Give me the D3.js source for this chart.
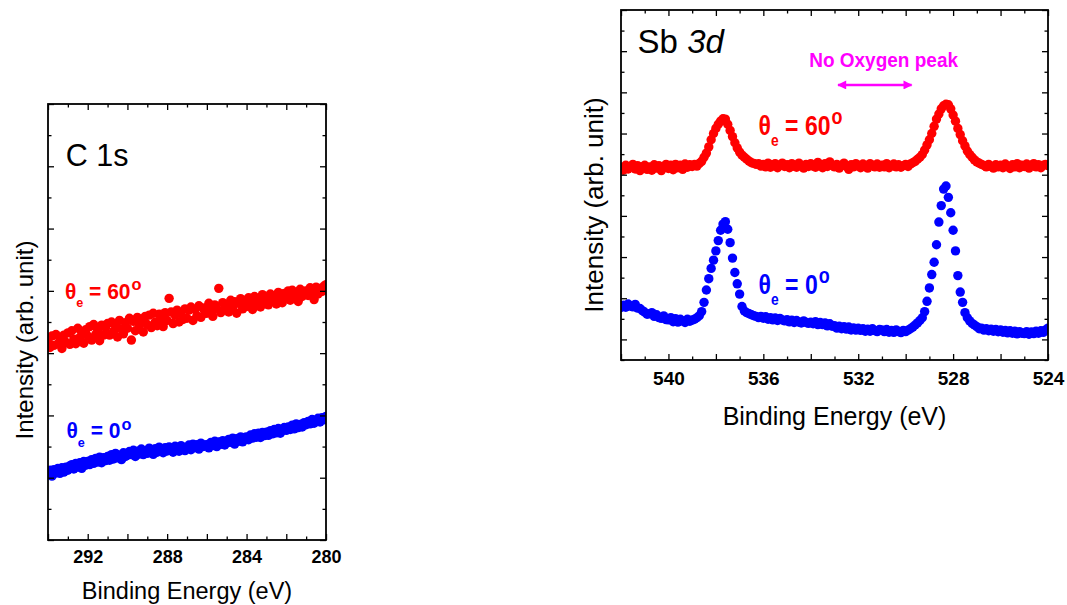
<!DOCTYPE html>
<html><head><meta charset="utf-8">
<script src="https://cdn.jsdelivr.net/npm/d3@7/dist/d3.min.js"></script>
<style>
body{margin:0;background:#fff;}
svg{display:block;font-family:"Liberation Sans",Arial,Helvetica,sans-serif;}
</style>
</head><body>
<svg id="chart" width="1067" height="605"></svg>
<script>
// ---------- DATA ----------
// C 1s: binding energy sampled every 0.1 eV from 294.0 down to 280.0
const c1sStart = 294.0, c1sStep = 0.1;
const c1s60 = [
6.42,6.18,6.55,6.25,6.60,6.30,6.48,6.15,6.58,6.35,
6.65,6.28,6.72,6.45,6.30,6.80,6.50,6.68,6.32,6.75,
6.55,6.85,6.42,6.92,6.60,6.75,6.40,6.90,6.58,6.82,
6.95,6.58,7.00,6.70,6.88,6.52,7.05,6.78,6.62,6.98,
6.80,7.12,6.42,7.02,6.72,7.15,6.88,7.08,6.68,7.18,
6.92,7.22,6.82,7.28,7.00,6.88,7.25,7.10,6.85,7.30,
7.05,7.76,7.32,6.95,7.22,7.38,7.00,7.30,7.08,7.42,
7.12,7.38,7.48,7.05,7.40,7.20,7.52,7.15,7.45,7.28,
7.28,7.60,7.40,7.18,7.55,7.42,8.08,7.30,7.62,7.45,
7.55,7.32,7.70,7.45,7.65,7.28,7.60,7.75,7.42,7.68,
7.50,7.78,7.65,7.40,7.82,7.58,7.72,7.48,7.88,7.62,
7.75,7.55,7.90,7.68,7.82,7.58,7.95,7.72,7.62,7.92,
7.80,8.00,7.70,8.02,7.85,7.95,7.66,8.05,7.82,7.98,
8.00,7.85,8.10,7.95,7.72,8.12,7.90,8.08,7.98,8.15,
8.20];
const c1s0 = [
2.12,2.24,2.05,2.26,2.15,2.30,2.14,2.32,2.18,2.34,
2.24,2.38,2.42,2.28,2.46,2.34,2.48,2.30,2.52,2.40,
2.52,2.42,2.58,2.46,2.62,2.50,2.66,2.48,2.64,2.55,
2.68,2.56,2.74,2.60,2.78,2.64,2.72,2.58,2.80,2.68,
2.72,2.84,2.74,2.88,2.68,2.85,2.76,2.92,2.74,2.86,
2.78,2.95,2.86,2.75,2.93,2.82,2.98,2.88,2.80,2.96,
2.86,2.99,2.90,2.82,3.01,2.92,2.85,3.03,2.93,2.87,
2.94,3.05,2.90,3.08,2.97,3.06,2.92,3.11,3.00,3.05,
3.06,2.96,3.13,3.03,3.17,3.00,3.15,3.07,3.19,3.05,
3.12,3.23,3.14,3.27,3.08,3.25,3.17,3.31,3.15,3.29,
3.31,3.22,3.37,3.27,3.41,3.30,3.43,3.29,3.45,3.35,
3.46,3.36,3.51,3.41,3.55,3.44,3.58,3.43,3.52,3.61,
3.52,3.63,3.55,3.69,3.57,3.73,3.61,3.71,3.63,3.77,
3.70,3.81,3.73,3.87,3.75,3.85,3.91,3.79,3.93,3.86,
3.97];

// Sb 3d: binding energy sampled every 0.1 eV from 542.0 down to 524.0
const sbStart = 542.0, sbStep = 0.1;
const sb60 = [
9.35,9.22,9.46,9.28,9.40,9.50,9.28,9.44,9.20,9.38,
9.46,9.26,9.38,9.22,9.48,9.32,9.44,9.20,9.40,9.50,
9.30,9.46,9.24,9.50,9.34,9.46,9.26,9.52,9.36,9.48,
9.40,9.50,9.42,9.55,9.65,9.85,10.05,10.35,10.70,11.00,
11.25,11.45,11.60,11.72,11.70,11.45,11.15,10.85,10.55,10.30,
10.10,9.95,9.85,9.75,9.66,9.58,9.55,9.50,9.54,9.42,
9.50,9.38,9.56,9.36,9.48,9.54,9.34,9.46,9.56,9.40,
9.48,9.34,9.54,9.42,9.36,9.56,9.45,9.32,9.50,9.40,
9.54,9.42,9.36,9.60,9.46,9.34,9.54,9.40,9.62,9.45,
9.38,9.50,9.32,9.46,9.56,9.40,9.26,9.48,9.38,9.54,
9.44,9.34,9.52,9.40,9.32,9.54,9.45,9.38,9.52,9.36,
9.46,9.38,9.54,9.34,9.44,9.52,9.38,9.48,9.36,9.44,
9.50,9.40,9.52,9.58,9.65,9.75,9.85,9.98,10.20,10.45,
10.70,11.00,11.35,11.70,11.95,12.20,12.35,12.42,12.40,12.20,
11.90,11.60,11.25,10.95,10.65,10.40,10.15,9.98,9.85,9.72,
9.62,9.56,9.50,9.45,9.38,9.50,9.40,9.32,9.48,9.38,
9.46,9.34,9.52,9.40,9.30,9.48,9.38,9.54,9.34,9.46,
9.40,9.52,9.32,9.46,9.54,9.38,9.48,9.34,9.46,9.50,
9.44];
const sb0 = [
2.55,2.66,2.56,2.72,2.62,2.58,2.70,2.52,2.50,2.40,
2.32,2.22,2.24,2.30,2.12,2.20,2.06,2.02,2.14,1.96,
1.95,2.06,1.86,2.00,1.84,1.98,1.90,1.82,1.98,1.88,
1.94,1.98,2.05,2.15,2.35,2.80,3.40,3.95,4.45,4.85,
5.30,5.80,6.30,6.60,6.72,6.35,5.70,4.95,4.25,3.70,
3.20,2.60,2.38,2.30,2.25,2.20,2.15,2.12,2.06,2.12,
2.03,2.10,1.98,2.06,1.95,2.04,1.92,2.02,1.95,1.90,
1.96,1.85,1.93,1.82,1.92,1.84,1.80,1.90,1.82,1.78,
1.84,1.76,1.86,1.72,1.82,1.72,1.80,1.66,1.76,1.64,
1.66,1.55,1.64,1.52,1.62,1.50,1.60,1.46,1.56,1.45,
1.54,1.44,1.52,1.40,1.50,1.40,1.52,1.43,1.38,1.48,
1.46,1.38,1.48,1.35,1.44,1.34,1.46,1.38,1.33,1.44,
1.38,1.45,1.52,1.60,1.70,1.80,1.92,2.05,2.35,2.85,
3.50,4.15,4.75,5.60,6.70,7.50,8.30,8.45,7.90,7.15,
6.30,5.30,4.10,3.30,2.80,2.30,2.05,1.90,1.78,1.70,
1.62,1.52,1.54,1.45,1.52,1.42,1.50,1.40,1.48,1.37,
1.46,1.35,1.44,1.32,1.42,1.30,1.40,1.27,1.38,1.30,
1.28,1.38,1.25,1.36,1.28,1.40,1.30,1.42,1.34,1.46,
1.55];

const c1sLabels = [292, 288, 284, 280];
const sbLabels = [540, 536, 532, 528, 524];
const colors = {red: "#ff0000", blue: "#0000ff", magenta: "#ff00ff"};

// ---------- DRAW ----------
const svg = d3.select("#chart");

function energyOf(start, step, i) { return +(start - i * step).toFixed(2); }

function panel(cfg) {
  const g = svg.append("g");
  const x = d3.scaleLinear().domain(cfg.xDomain).range([cfg.left, cfg.right]);
  const y = d3.scaleLinear().domain(cfg.yDomain).range([cfg.bottom, cfg.top]);
  const clipId = "clip-" + cfg.id;
  svg.append("clipPath").attr("id", clipId).append("rect")
    .attr("x", cfg.left).attr("y", cfg.top)
    .attr("width", cfg.right - cfg.left).attr("height", cfg.bottom - cfg.top);

  const pts = g.append("g").attr("clip-path", `url(#${clipId})`);
  cfg.series.forEach(s => {
    const data = s.values.map((v, i) => ({e: energyOf(cfg.start, cfg.step, i), v}));
    pts.append("g").selectAll("circle").data(data).join("circle")
      .attr("cx", d => x(d.e)).attr("cy", d => y(d.v)).attr("r", cfg.r)
      .attr("fill", s.color);
  });

  const xt = d3.range(Math.min(...cfg.xDomain), Math.max(...cfg.xDomain) + 0.001, 1);
  const yt = d3.range(cfg.yDomain[0], cfg.yDomain[1] + 0.001, 1);
  const isMajX = d => Math.round(d) % 2 === 0;
  const isMajY = d => Math.abs(Math.round(d) % 2) === cfg.yMajorParity;

  const gb = g.append("g").attr("transform", `translate(0,${cfg.bottom})`)
    .call(d3.axisBottom(x).tickValues(xt).tickSize(0)
      .tickFormat(d => cfg.labels.includes(Math.round(d)) ? d3.format("d")(d) : ""));
  gb.select(".domain").remove();
  gb.selectAll(".tick line").attr("y2", d => isMajX(d) ? -6 : -3.5).attr("stroke", "#000").attr("stroke-width", 1.3);
  gb.selectAll(".tick text").attr("y", cfg.labelOffset).attr("dy", null)
    .attr("font-size", cfg.labelSize).attr("font-weight", "bold")
    .attr("font-family", '"Liberation Sans",Arial,sans-serif').attr("fill", "#000");

  const gt = g.append("g").attr("transform", `translate(0,${cfg.top})`)
    .call(d3.axisTop(x).tickValues(xt).tickSize(0).tickFormat(""));
  gt.select(".domain").remove();
  gt.selectAll(".tick line").attr("y2", d => isMajX(d) ? 6 : 3.5).attr("stroke", "#000").attr("stroke-width", 1.3);

  const gl = g.append("g").attr("transform", `translate(${cfg.left},0)`)
    .call(d3.axisLeft(y).tickValues(yt).tickSize(0).tickFormat(""));
  gl.select(".domain").remove();
  gl.selectAll(".tick line").attr("x2", d => isMajY(d) ? 6 : 3.5).attr("stroke", "#000").attr("stroke-width", 1.3);

  const gr = g.append("g").attr("transform", `translate(${cfg.right},0)`)
    .call(d3.axisRight(y).tickValues(yt).tickSize(0).tickFormat(""));
  gr.select(".domain").remove();
  gr.selectAll(".tick line").attr("x2", d => isMajY(d) ? -6 : -3.5).attr("stroke", "#000").attr("stroke-width", 1.3);

  g.append("rect").attr("x", cfg.left).attr("y", cfg.top)
    .attr("width", cfg.right - cfg.left).attr("height", cfg.bottom - cfg.top)
    .attr("fill", "none").attr("stroke", "#000").attr("stroke-width", 1.8);

  g.append("text").attr("x", (cfg.left + cfg.right) / 2).attr("y", cfg.xTitleY)
    .attr("text-anchor", "middle").attr("font-size", cfg.xTitleSize).attr("fill", "#000")
    .text("Binding Energy (eV)");
  g.append("text").attr("transform", `translate(${cfg.yTitleX},${cfg.yTitleCY}) rotate(-90)`)
    .attr("text-anchor", "middle").attr("font-size", cfg.yTitleSize).attr("fill", "#000")
    .text("Intensity (arb. unit)");

  return {g, x, y};
}

function thetaLabel(g, px, py, size, sy, color, val) {
  const t = g.append("text").attr("transform", `translate(${px},${py}) scale(1,${sy})`)
    .attr("fill", color).attr("font-weight", "bold").attr("font-size", size);
  t.append("tspan").text("θ");
  t.append("tspan").attr("font-size", size * 0.6).attr("dy", size * 0.4).text("e");
  t.append("tspan").attr("dy", -size * 0.4).text(" = " + val);
  t.append("tspan").attr("font-size", size * 0.78).attr("dx", 1).attr("dy", -size * 0.38).text("o");
}

// Left panel: C 1s
const L = panel({
  id: "c1s", left: 48, right: 326, top: 104, bottom: 540,
  xDomain: [294, 280], yDomain: [0, 14], yMajorParity: 0,
  start: c1sStart, step: c1sStep, r: 4.7,
  series: [{values: c1s60, color: colors.red}, {values: c1s0, color: colors.blue}],
  labels: c1sLabels, labelOffset: 23, labelSize: 18,
  xTitleY: 599, xTitleSize: 23.5, yTitleX: 33, yTitleCY: 340, yTitleSize: 24
});
L.g.append("text").attr("x", L.x(293.1)).attr("y", L.y(12.0)).attr("font-size", 30.5).attr("fill", "#000").text("C 1s");
thetaLabel(L.g, L.x(293.15), L.y(7.75), 21, 1.05, colors.red, "60");
thetaLabel(L.g, L.x(293.07), L.y(3.27), 21, 1.05, colors.blue, "0");

// Right panel: Sb 3d
const R = panel({
  id: "sb3d", left: 621, right: 1048, top: 10, bottom: 360,
  xDomain: [542, 524], yDomain: [0, 17], yMajorParity: 1,
  start: sbStart, step: sbStep, r: 4.7,
  series: [{values: sb60, color: colors.red}, {values: sb0, color: colors.blue}],
  labels: sbLabels, labelOffset: 25, labelSize: 19,
  xTitleY: 425, xTitleSize: 25, yTitleX: 603, yTitleCY: 205, yTitleSize: 26
});
const sbT = R.g.append("text").attr("x", R.x(541.3)).attr("y", R.y(14.9)).attr("font-size", 33).attr("fill", "#000");
sbT.append("tspan").text("Sb ");
sbT.append("tspan").attr("font-style", "italic").text("3d");
thetaLabel(R.g, R.x(536.2), R.y(10.95), 23, 1.2, colors.red, "60");
thetaLabel(R.g, R.x(536.2), R.y(3.23), 23, 1.2, colors.blue, "0");

// annotation: No Oxygen peak with double arrow
R.g.append("text").attr("transform", `translate(${R.x(530.93)},${R.y(14.24)}) scale(1,1.1)`)
  .attr("text-anchor", "middle")
  .attr("font-size", 19).attr("font-weight", "bold").attr("fill", colors.magenta).text("No Oxygen peak");
const defs = svg.append("defs");
defs.append("marker").attr("id", "ah").attr("viewBox", "0 0 10 10").attr("refX", 9).attr("refY", 5)
  .attr("markerWidth", 10).attr("markerHeight", 9).attr("markerUnits", "userSpaceOnUse")
  .attr("orient", "auto-start-reverse")
  .append("path").attr("d", "M0,0 L10,5 L0,10 Z").attr("fill", colors.magenta);
R.g.append("line").attr("x1", R.x(532.85)).attr("x2", R.x(529.75))
  .attr("y1", R.y(13.36)).attr("y2", R.y(13.36))
  .attr("stroke", colors.magenta).attr("stroke-width", 2.4)
  .attr("marker-start", "url(#ah)").attr("marker-end", "url(#ah)");
</script>
</body></html>
